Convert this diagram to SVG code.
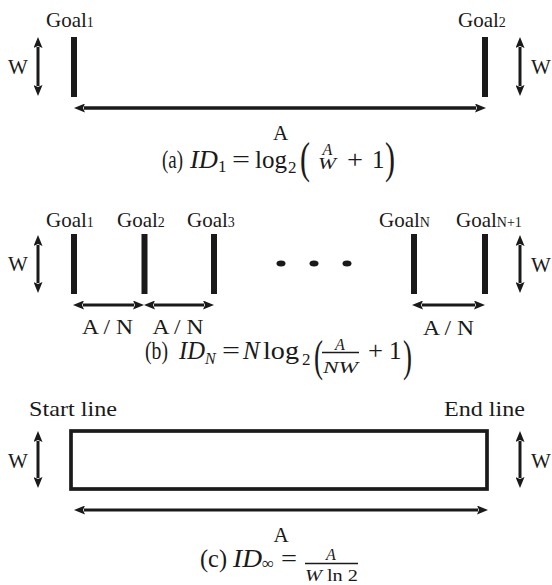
<svg xmlns="http://www.w3.org/2000/svg" width="552" height="585" viewBox="0 0 552 585">
<style>
  text { font-family: "Liberation Serif", "Times New Roman", serif; fill: #1a1a1a; }
  .lbl { font-size: 21px; }
  .sub { font-size: 14px; }
  .big { font-size: 26px; }
  .m { font-size: 25px; }
  .mi { font-size: 25px; font-style: italic; }
  .ms { font-size: 17px; }
  .msi { font-size: 16px; font-style: italic; }
  .fr { font-size: 16px; font-style: italic; }
  .par { font-size: 44px; }
  .bar { fill: #1a1a1a; }
  .arr { stroke: #1a1a1a; stroke-width: 3; fill: none; marker-start: url(#ah); marker-end: url(#ah); }
  .thick { stroke-width: 3.6; }
  .fbar { stroke: #1a1a1a; stroke-width: 1.3; }
</style>
<defs>
  <marker id="ah" viewBox="0 0 11 9" markerWidth="11" markerHeight="9" refX="1" refY="4.5" orient="auto-start-reverse" markerUnits="userSpaceOnUse">
    <path d="M0,0 L11,4.5 L0,9 L2,4.5 z" fill="#1a1a1a"/>
  </marker>
</defs>

<!-- Panel (a) -->
<g id="a-goal1">
  <text class="lbl" x="46" y="27" >Goal<tspan class="sub">1</tspan></text>
  <rect class="bar" x="71" y="37" width="6" height="60"/>
</g>
<g id="a-goal2">
  <text class="lbl" x="458" y="27">Goal<tspan class="sub">2</tspan></text>
  <rect class="bar" x="482" y="37" width="6" height="60"/>
</g>
<g id="a-labels">
  <text class="lbl" x="8" y="74" font-size="22">W</text>
  <text class="lbl" x="531" y="74" font-size="22">W</text>
  <text class="lbl" x="280.5" y="140" text-anchor="middle" font-size="22">A</text>
</g>
<g id="a-formula">
  <text class="big" x="162" y="168" textLength="21" lengthAdjust="spacingAndGlyphs">(a)</text>
  <text class="mi" x="190" y="168" textLength="28" lengthAdjust="spacingAndGlyphs">ID</text>
  <text class="ms" x="218" y="172">1</text>
  <text class="m" x="232" y="168" textLength="18" lengthAdjust="spacingAndGlyphs">=</text>
  <text class="m" x="255" y="168" textLength="32" lengthAdjust="spacingAndGlyphs">log</text>
  <text class="ms" x="288" y="173">2</text>
  <text class="par" x="300" y="173" textLength="10" lengthAdjust="spacingAndGlyphs">(</text>
  <text class="fr" x="327.5" y="155" text-anchor="middle">A</text>
  <text class="fr" x="327" y="169" text-anchor="middle" textLength="18" lengthAdjust="spacingAndGlyphs">W</text>
  <text class="m" x="347" y="168" textLength="16" lengthAdjust="spacingAndGlyphs">+</text>
  <text class="m" x="372" y="168">1</text>
  <text class="par" x="385" y="173" textLength="10" lengthAdjust="spacingAndGlyphs">)</text>
</g>

<!-- Panel (b) -->
<g id="b-goal1">
  <text class="lbl" x="46" y="227">Goal<tspan class="sub">1</tspan></text>
  <rect class="bar" x="71" y="234" width="6" height="60"/>
</g>
<g id="b-goal2">
  <text class="lbl" x="117" y="227">Goal<tspan class="sub">2</tspan></text>
  <rect class="bar" x="141.5" y="234" width="6" height="60"/>
</g>
<g id="b-goal3">
  <text class="lbl" x="187" y="227">Goal<tspan class="sub">3</tspan></text>
  <rect class="bar" x="211" y="234" width="6" height="60"/>
</g>
<g id="b-dots">
  <ellipse cx="281" cy="263.5" rx="4.5" ry="3" fill="#1a1a1a"/>
  <ellipse cx="314" cy="263.5" rx="4.5" ry="3" fill="#1a1a1a"/>
  <ellipse cx="347" cy="263.5" rx="4.5" ry="3" fill="#1a1a1a"/>
</g>
<g id="b-goalN">
  <text class="lbl" x="379" y="227">Goal<tspan class="sub">N</tspan></text>
  <rect class="bar" x="411" y="234" width="6" height="60"/>
</g>
<g id="b-goalN1">
  <text class="lbl" x="456" y="227">Goal<tspan class="sub" font-size="15">N+1</tspan></text>
  <rect class="bar" x="482" y="234" width="6" height="60"/>
</g>
<g id="b-labels">
  <text class="lbl" x="8" y="271" font-size="22">W</text>
  <text class="lbl" x="531" y="272" font-size="22">W</text>
  <text class="lbl" x="107.5" y="334" text-anchor="middle" textLength="51" lengthAdjust="spacingAndGlyphs">A / N</text>
  <text class="lbl" x="178" y="334" text-anchor="middle" textLength="51" lengthAdjust="spacingAndGlyphs">A / N</text>
  <text class="lbl" x="448.5" y="335" text-anchor="middle" textLength="51" lengthAdjust="spacingAndGlyphs">A / N</text>
</g>
<g id="b-formula">
  <text class="big" x="145" y="359" textLength="23" lengthAdjust="spacingAndGlyphs">(b)</text>
  <text class="mi" x="179" y="359" textLength="26" lengthAdjust="spacingAndGlyphs">ID</text>
  <text class="msi" x="205" y="364">N</text>
  <text class="m" x="222" y="359" textLength="18" lengthAdjust="spacingAndGlyphs">=</text>
  <text class="mi" x="243" y="359">N</text>
  <text class="m" x="263" y="359" textLength="36" lengthAdjust="spacingAndGlyphs">log</text>
  <text class="ms" x="302" y="365">2</text>
  <text class="par" x="314" y="371" font-size="48" textLength="9" lengthAdjust="spacingAndGlyphs">(</text>
  <text class="fr" x="340" y="350" text-anchor="middle">A</text>
  <line class="fbar" x1="322" y1="352.5" x2="359" y2="352.5"/>
  <text class="fr" x="340.5" y="373" text-anchor="middle" textLength="35" lengthAdjust="spacingAndGlyphs">NW</text>
  <text class="m" x="368" y="359" textLength="15" lengthAdjust="spacingAndGlyphs">+</text>
  <text class="m" x="389" y="359">1</text>
  <text class="par" x="403" y="371" font-size="48" textLength="9" lengthAdjust="spacingAndGlyphs">)</text>
</g>

<!-- Panel (c) -->
<g id="c-track">
  <text class="lbl" x="29" y="416" font-size="23" textLength="88" lengthAdjust="spacingAndGlyphs">Start line</text>
  <text class="lbl" x="444" y="416" font-size="23" textLength="81" lengthAdjust="spacingAndGlyphs">End line</text>
  <rect x="71" y="431" width="416" height="58" fill="none" stroke="#1a1a1a" stroke-width="3.7"/>
</g>
<g id="c-labels">
  <text class="lbl" x="8" y="468" font-size="22">W</text>
  <text class="lbl" x="531" y="468" font-size="22">W</text>
  <text class="lbl" x="281" y="542" text-anchor="middle" font-size="22">A</text>
</g>
<g id="c-formula">
  <text class="big" x="200" y="567" textLength="27" lengthAdjust="spacingAndGlyphs">(c)</text>
  <text class="mi" x="233" y="567" textLength="29" lengthAdjust="spacingAndGlyphs">ID</text>
  <text class="ms" x="262" y="569">∞</text>
  <text class="m" x="281" y="567" textLength="16" lengthAdjust="spacingAndGlyphs">=</text>
  <text class="fr" x="331" y="560" text-anchor="middle">A</text>
  <line class="fbar" x1="305" y1="563.5" x2="358" y2="563.5"/>
  <text x="305" y="581" font-size="17" textLength="53" lengthAdjust="spacingAndGlyphs"><tspan font-style="italic">W</tspan> ln 2</text>
</g>

<!-- Connectors -->
<g id="connectors">
  <line class="arr" x1="38" y1="47" x2="38" y2="86"/>
  <line class="arr" x1="520" y1="47" x2="520" y2="86"/>
  <line class="arr thick" x1="84" y1="108" x2="476" y2="108"/>

  <line class="arr" x1="38" y1="245" x2="38" y2="283"/>
  <line class="arr" x1="520" y1="245" x2="520" y2="283"/>
  <line class="arr" x1="83" y1="305" x2="134" y2="305"/>
  <line class="arr" x1="154" y1="305" x2="204" y2="305"/>
  <line class="arr" x1="422" y1="305" x2="475" y2="305"/>

  <line class="arr" x1="38" y1="441" x2="38" y2="478"/>
  <line class="arr" x1="520" y1="441" x2="520" y2="478"/>
  <line class="arr" x1="84" y1="510" x2="478" y2="510" stroke-width="2.7"/>
</g>
</svg>
